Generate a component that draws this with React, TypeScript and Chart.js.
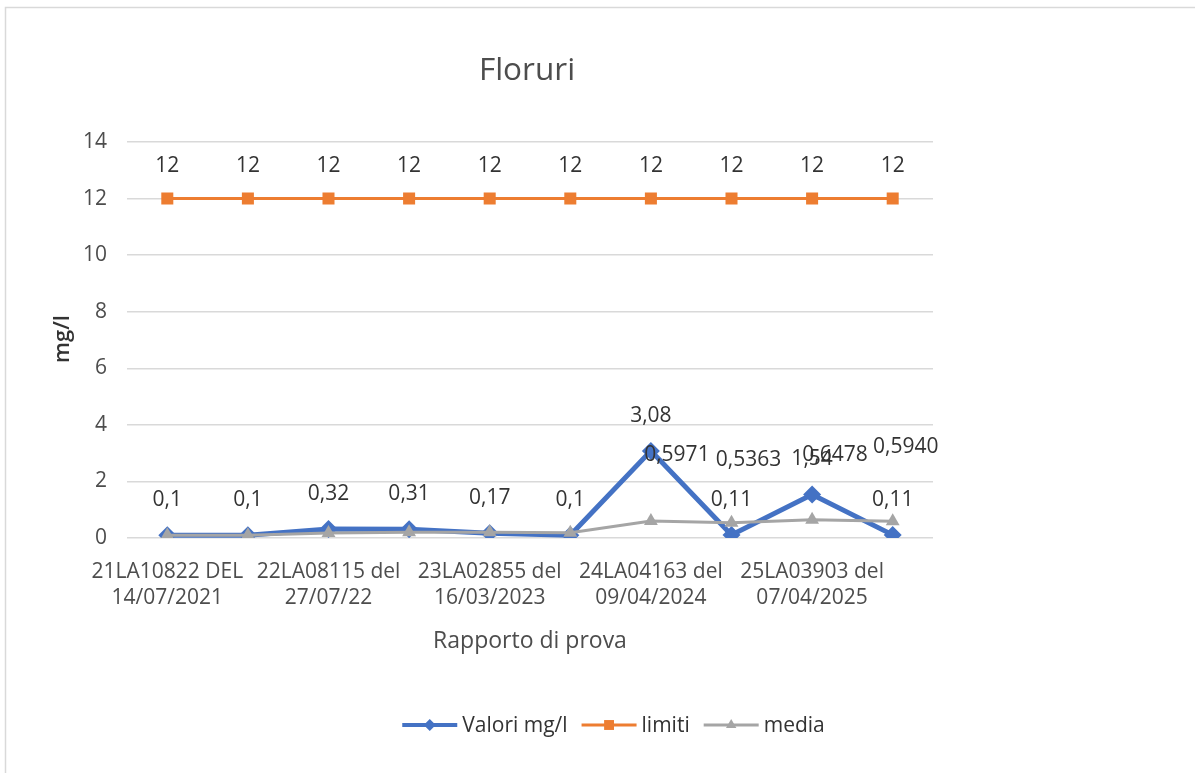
import React, { useEffect, useRef } from "react";
import { Chart, registerables } from "chart.js";

Chart.register(...registerables);

const TITLE = "Floruri";
const X_TITLE = "Rapporto di prova";
const Y_TITLE = "mg/l";

// Only every other category label is legible in the reference; hidden ones left blank.
const categories = [
  "21LA10822 DEL\n14/07/2021",
  "",
  "22LA08115 del\n27/07/22",
  "",
  "23LA02855 del\n16/03/2023",
  "",
  "24LA04163 del\n09/04/2024",
  "",
  "25LA03903 del\n07/04/2025",
  "",
];

const valori = [0.1, 0.1, 0.32, 0.31, 0.17, 0.1, 3.08, 0.11, 1.54, 0.11];
const limiti = [12, 12, 12, 12, 12, 12, 12, 12, 12, 12];
const media = [0.1, 0.1, 0.1733, 0.2075, 0.2, 0.1833, 0.5971, 0.5363, 0.6478, 0.594];
const mediaLabelShown = [false, false, false, false, false, false, true, true, true, true];

const Y_MIN = 0;
const Y_MAX = 14;
const Y_STEP = 2;

// label placement styles for the media labels (relative to their point)
const mediaLabelDx = [0, 0, 0, 0, 0, 0, 26, 17, 23, 13];
const mediaLabelDy = [0, 0, 0, 0, 0, 0, 66, 63, 65, 74];

const FONT = "'Open Sans', sans-serif";
const TICK_COLOR = "#4d4d4d";
const LABEL_COLOR = "#333333";

const fmt = (v: number) => String(v).replace(".", ",");
const fmt4 = (v: number) => v.toFixed(4).replace(".", ",");

function drawMarker(ctx: CanvasRenderingContext2D, style: string, x: number, y: number, r: number, color: string) {
  ctx.save();
  ctx.fillStyle = color;
  ctx.beginPath();
  if (style === "rectRot") {
    ctx.moveTo(x, y - r);
    ctx.lineTo(x + r, y);
    ctx.lineTo(x, y + r);
    ctx.lineTo(x - r, y);
  } else if (style === "rect") {
    const s = r * Math.SQRT1_2;
    ctx.rect(x - s, y - s, 2 * s, 2 * s);
  } else {
    ctx.moveTo(x, y - r);
    ctx.lineTo(x + r * 0.866, y + r * 0.5);
    ctx.lineTo(x - r * 0.866, y + r * 0.5);
  }
  ctx.closePath();
  ctx.fill();
  ctx.restore();
}

const decor = {
  id: "decor",
  beforeDraw(chart: any) {
    const ctx = chart.ctx;
    ctx.save();
    ctx.fillStyle = "#ffffff";
    ctx.fillRect(0, 0, chart.width, chart.height);
    ctx.restore();
  },
  afterDatasetsDraw(chart: any) {
    const ctx: CanvasRenderingContext2D = chart.ctx;
    ctx.save();
    ctx.font = `21px ${FONT}`;
    ctx.fillStyle = LABEL_COLOR;
    ctx.textAlign = "center";
    ctx.textBaseline = "middle";
    // limiti
    const m1 = chart.getDatasetMeta(1);
    m1.data.forEach((p: any, i: number) => ctx.fillText(fmt(limiti[i]), p.x, p.y - 33));
    // media
    const m2 = chart.getDatasetMeta(2);
    m2.data.forEach((p: any, i: number) => {
      if (mediaLabelShown[i]) ctx.fillText(fmt4(media[i]), p.x + mediaLabelDx[i], p.y - mediaLabelDy[i]);
    });
    // valori
    const m0 = chart.getDatasetMeta(0);
    m0.data.forEach((p: any, i: number) => ctx.fillText(fmt(valori[i]), p.x, p.y - 35));
    ctx.restore();
  },
  afterDraw(chart: any) {
    const ctx: CanvasRenderingContext2D = chart.ctx;
    const area = chart.chartArea;
    ctx.save();
    // outer border
    ctx.strokeStyle = "#d9d9d9";
    ctx.lineWidth = 1.5;
    ctx.strokeRect(5.5, 7.5, chart.width + 20, chart.height + 20);

    // title
    ctx.fillStyle = TICK_COLOR;
    ctx.textAlign = "center";
    ctx.textBaseline = "alphabetic";
    ctx.font = `31.5px ${FONT}`;
    ctx.fillText(TITLE, (area.left + area.right) / 2 - 3, 80);

    // x title
    ctx.font = `23px ${FONT}`;
    ctx.fillText(X_TITLE, (area.left + area.right) / 2, 648);

    // y title
    ctx.save();
    ctx.translate(69, 339);
    ctx.rotate(-Math.PI / 2);
    ctx.font = `600 22px ${FONT}`;
    ctx.fillStyle = "#333333";
    ctx.fillText(Y_TITLE, 0, 0);
    ctx.restore();

    // legend
    ctx.font = `21px ${FONT}`;
    ctx.textAlign = "left";
    ctx.textBaseline = "middle";
    const lineLen = 55;
    const gapText = 5;
    const itemGap = 14;
    const ds = chart.data.datasets;
    const widths = ds.map((d: any) => lineLen + gapText + ctx.measureText(d.label).width);
    const total = widths.reduce((a: number, b: number) => a + b, 0) + itemGap * (ds.length - 1);
    let x = 613.5 - total / 2;
    const y = 725;
    ds.forEach((d: any, i: number) => {
      ctx.strokeStyle = d.borderColor;
      ctx.lineWidth = d.legendLineWidth;
      ctx.beginPath();
      ctx.moveTo(x, y);
      ctx.lineTo(x + lineLen, y);
      ctx.stroke();
      drawMarker(ctx, d.pointStyle, x + lineLen / 2, y, d.legendRadius, d.borderColor);
      ctx.fillStyle = LABEL_COLOR;
      ctx.fillText(d.label, x + lineLen + gapText, y + 1);
      x += widths[i] + itemGap;
    });
    ctx.restore();
  },
};

export default function App() {
  const ref = useRef<HTMLCanvasElement>(null);
  useEffect(() => {
    if (!ref.current) return;
    const chart = new Chart(ref.current, {
      type: "line",
      data: {
        labels: categories,
        datasets: [
          {
            label: "Valori mg/l",
            data: valori,
            borderColor: "#4472C4",
            backgroundColor: "#4472C4",
            borderWidth: 5,
            pointStyle: "rectRot",
            pointRadius: 9,
            pointBorderWidth: 0,
            order: 2,
            legendLineWidth: 4,
            legendRadius: 6,
          } as any,
          {
            label: "limiti",
            data: limiti,
            borderColor: "#ED7D31",
            backgroundColor: "#ED7D31",
            borderWidth: 3,
            pointStyle: "rect",
            pointRadius: 8.5,
            pointBorderWidth: 0,
            order: 1,
            legendLineWidth: 3,
            legendRadius: 7,
          } as any,
          {
            label: "media",
            data: media,
            borderColor: "#A5A5A5",
            backgroundColor: "#A5A5A5",
            borderWidth: 3,
            pointStyle: "triangle",
            pointRadius: 8,
            pointBorderWidth: 0,
            order: 0,
            legendLineWidth: 3,
            legendRadius: 6,
          } as any,
        ],
      },
      options: {
        responsive: false,
        animation: false,
        devicePixelRatio: 1,
        layout: { padding: { left: 0, right: 262, top: 142, bottom: 135 } },
        plugins: {
          legend: { display: false },
          title: { display: false },
          tooltip: { enabled: false },
        },
        elements: { line: { tension: 0 } },
        scales: {
          x: {
            type: "category",
            offset: true,
            grid: { display: false, drawTicks: false },
            border: { display: false },
            ticks: {
              autoSkip: false,
              maxRotation: 0,
              minRotation: 0,
              padding: 21,
              color: TICK_COLOR,
              font: { family: FONT, size: 21, lineHeight: 1.24 },
              callback: (_v: any, i: number) => (categories[i] ? categories[i].split("\n") : ""),
            },
            afterFit: (s: any) => {
              s.height = 100;
            },
          },
          y: {
            min: Y_MIN,
            max: Y_MAX,
            grid: { color: "#d9d9d9", lineWidth: 1.5, drawTicks: false },
            border: { display: false },
            ticks: {
              stepSize: Y_STEP,
              padding: 20,
              color: TICK_COLOR,
              font: { family: FONT, size: 21 },
            },
            afterFit: (s: any) => {
              s.width = 127;
            },
          },
        },
      },
      plugins: [decor],
    });
    return () => chart.destroy();
  }, []);
  return (
    <div style={{ position: "fixed", left: 0, top: 0, width: 1195, height: 773, background: "#fff" }}>
      <canvas ref={ref} width={1195} height={773} style={{ display: "block" }} />
    </div>
  );
}
